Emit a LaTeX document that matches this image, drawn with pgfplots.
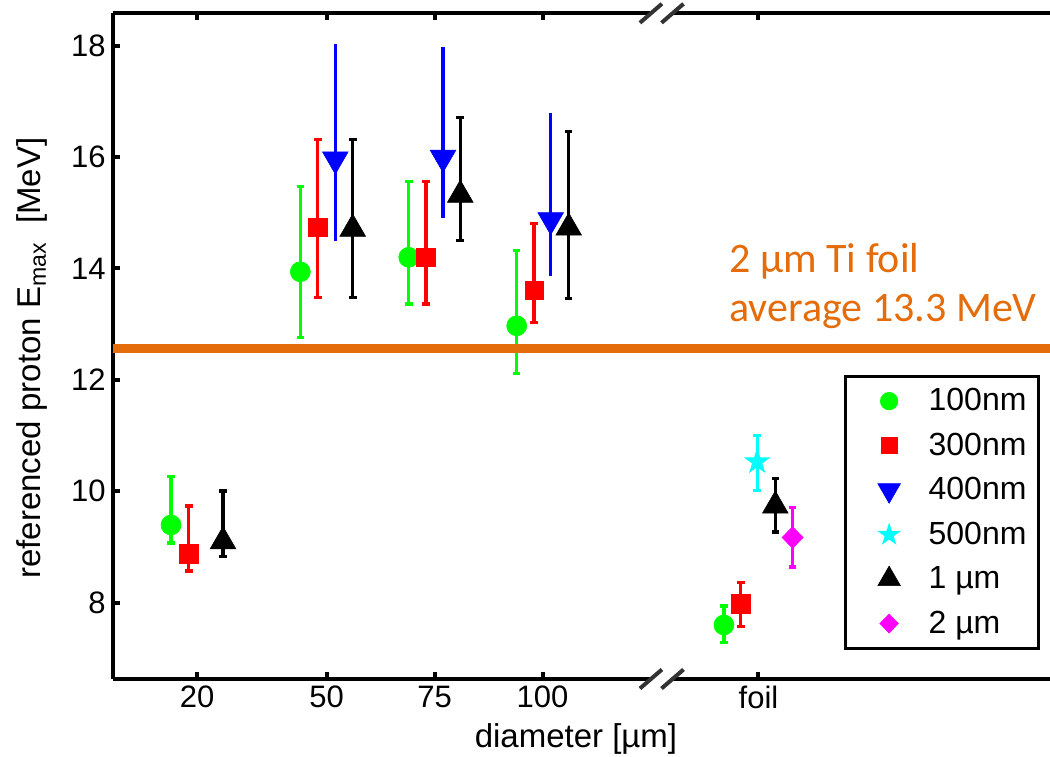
\documentclass[border=0pt]{standalone}
\usepackage{fontspec}
\setmainfont{Liberation Sans}
\newfontfamily\calibri{Carlito}
\usepackage{pgfplots}
\usepackage{pgfplotstable}
\pgfplotsset{compat=1.18}
\usetikzlibrary{calc}
\definecolor{cGreen}{HTML}{00FF00}
\definecolor{cRed}{HTML}{FF0000}
\definecolor{cBlue}{HTML}{0000FF}
\definecolor{cCyan}{HTML}{00FFFF}
\definecolor{cMag}{HTML}{FF00FF}
\definecolor{cOrange}{HTML}{E46C0A}
\definecolor{cBreak}{HTML}{333333}

% filled five-pointed star
\pgfdeclareplotmark{pentagram*}{%
  \pgfpathmoveto{\pgfpointpolar{90}{\pgfplotmarksize}}%
  \pgfpathlineto{\pgfpointpolar{126}{0.382\pgfplotmarksize}}%
  \pgfpathlineto{\pgfpointpolar{162}{\pgfplotmarksize}}%
  \pgfpathlineto{\pgfpointpolar{198}{0.382\pgfplotmarksize}}%
  \pgfpathlineto{\pgfpointpolar{234}{\pgfplotmarksize}}%
  \pgfpathlineto{\pgfpointpolar{270}{0.382\pgfplotmarksize}}%
  \pgfpathlineto{\pgfpointpolar{306}{\pgfplotmarksize}}%
  \pgfpathlineto{\pgfpointpolar{342}{0.382\pgfplotmarksize}}%
  \pgfpathlineto{\pgfpointpolar{18}{\pgfplotmarksize}}%
  \pgfpathlineto{\pgfpointpolar{54}{0.382\pgfplotmarksize}}%
  \pgfpathclose\pgfusepathqfill}

% x y top bottom
\pgfplotstableread{
x y t b
13.98 9.395 10.26 9.07
43.92 13.94 15.47 12.76
69.02 14.20 15.56 13.36
94.02 12.97 14.32 12.12
142.0 7.60 7.94 7.28
}\tabG
\pgfplotstableread{
x y t b
18.08 8.874 9.736 8.569
47.95 14.74 16.32 13.48
73.02 14.20 15.56 13.36
98.03 13.61 14.81 13.03
145.9 7.98 8.36 7.57
}\tabR
\pgfplotstableread{
x y t b
52.02 15.96 18.03 14.50
76.96 15.99 17.97 14.91
101.89 14.87 16.79 13.87
}\tabB
\pgfplotstableread{
x y t b
149.7 10.53 11.00 10.02
}\tabC
\pgfplotstableread{
x y t b
26.02 9.10 10.005 8.826
56.05 14.71 16.32 13.48
80.96 15.32 16.71 14.50
106.06 14.73 16.46 13.46
153.9 9.74 10.23 9.27
}\tabK
\pgfplotstableread{
x y t b
157.9 9.17 9.71 8.64
}\tabM

\pgfplotsset{
  errs/.style={error bars/.cd, y dir=both, y explicit,
    error mark=|,
    error bar style={line width=1.65pt, #1},
    error mark options={line width=1.65pt, mark size=1.9pt, draw=#1, #1}},
}
\tikzset{mk/.style={draw=#1, fill=#1, line width=0.3pt}}

\begin{document}
\begin{tikzpicture}
\begin{axis}[
  name=ax,
  scale only axis,
  width=468.65pt, height=332.85pt,
  xmin=0.48, xmax=217.5, ymin=6.63, ymax=18.58,
  axis x line*=box, axis y line*=left,
  axis line style={-, line width=2pt, black},
  tick align=inside,
  major tick length=3.5pt,
  tick style={line width=2pt, black},
  xtick={20,50,75,100,150},
  xticklabels={20,50,75,100,foil},
  ytick={8,10,12,14,16,18},
  /pgf/number format/assume math mode=true,
  ticklabel style={font=\fontsize{15.5}{18}\selectfont},
  xlabel={diameter [µm]},
  ylabel={referenced proton E\textsubscript{max}\ \ [MeV]},
  label style={font=\fontsize{16.5}{19}\selectfont},
  xlabel style={at={(axis description cs:0.4943,0)}, anchor=north, yshift=-19pt},
  ylabel style={at={(axis description cs:-0.062,0.482)}, anchor=south},
  clip=false,
  legend image code/.code={%
    \path (0pt,0pt) (34pt,0pt);
    \draw[#1, every mark/.append style={scale=0.88}] plot coordinates {(17pt,0pt)};},
  legend style={at={(0.9893,0.4567)}, anchor=north east, draw=black,
    line width=1.5pt, font=\fontsize{16}{18}\selectfont,
    row sep=5.6pt, inner xsep=4pt, inner ysep=4pt, cells={anchor=west}},
]
\addplot[only marks, mark=*, mark size=5pt, mark options={mk=cGreen}, errs=cGreen]
  table[x=x, y=y, y error plus expr=\thisrow{t}-\thisrow{y}, y error minus expr=\thisrow{y}-\thisrow{b}] {\tabG};
\addplot[only marks, mark=square*, mark size=4.6pt, mark options={mk=cRed}, errs=cRed]
  table[x=x, y=y, y error plus expr=\thisrow{t}-\thisrow{y}, y error minus expr=\thisrow{y}-\thisrow{b}] {\tabR};
\addplot[only marks, mark=triangle*, mark size=7.4pt, mark options={mk=cBlue, rotate=180},
  error bars/.cd, y dir=both, y explicit, error mark=none, error bar style={line width=1.65pt, cBlue}]
  table[x=x, y=y, y error plus expr=\thisrow{t}-\thisrow{y}, y error minus expr=\thisrow{y}-\thisrow{b}] {\tabB};
\addplot[only marks, mark=pentagram*, mark size=7pt, mark options={mk=cCyan}, errs=cCyan]
  table[x=x, y=y, y error plus expr=\thisrow{t}-\thisrow{y}, y error minus expr=\thisrow{y}-\thisrow{b}] {\tabC};
\addplot[only marks, mark=triangle*, mark size=7.4pt, mark options={mk=black}, errs=black]
  table[x=x, y=y, y error plus expr=\thisrow{t}-\thisrow{y}, y error minus expr=\thisrow{y}-\thisrow{b}] {\tabK};
\addplot[only marks, mark=diamond*, mark size=5.4pt, mark options={mk=cMag, xscale=1.3}, errs=cMag]
  table[x=x, y=y, y error plus expr=\thisrow{t}-\thisrow{y}, y error minus expr=\thisrow{y}-\thisrow{b}] {\tabM};
\addplot[forget plot, cOrange, line width=4.5pt, no marks] coordinates {(0.48,12.57) (217.5,12.57)};
\legend{100nm,300nm,400nm,500nm,1 µm,2 µm}
\node[anchor=base west, inner sep=0, text=cOrange, font=\calibri\fontsize{21}{25}\selectfont]
  at (axis cs:143.2,13.92) {2 µm Ti foil};
\node[anchor=base west, inner sep=0, text=cOrange, font=\calibri\fontsize{21}{25}\selectfont]
  at (axis cs:143.2,13.04) {average 13.3 MeV};
\coordinate (b1) at (axis cs:125.1,6.63);
\coordinate (b2) at (axis cs:130.1,6.63);
\coordinate (t1) at (axis cs:125.1,18.58);
\coordinate (t2) at (axis cs:130.1,18.58);
\end{axis}
% axis break marks
\draw[white, line width=3pt] (b1) -- (b2);
\draw[white, line width=3pt] (t1) -- (t2);
\foreach \p in {b1,b2,t1,t2}{
  \draw[cBreak, line width=2pt] (\p) ++(-5.5pt,-4.75pt) -- ++(11pt,9.5pt);
}
\pgfresetboundingbox
\path[use as bounding box] ($(ax.south west)+(-56.35pt,-38.5pt)$) rectangle ($(ax.north east)+(0pt,6.65pt)$);
\end{tikzpicture}
\end{document}
